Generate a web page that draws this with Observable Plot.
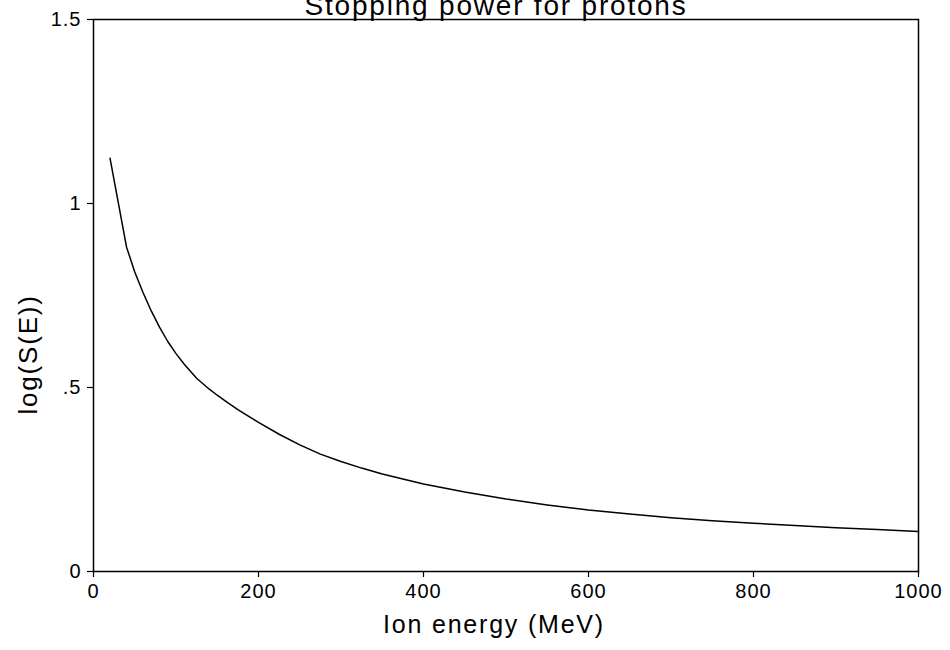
<!DOCTYPE html>
<html>
<head>
<meta charset="utf-8">
<script src="https://cdn.jsdelivr.net/npm/d3@7"></script>
<script src="https://cdn.jsdelivr.net/npm/@observablehq/plot@0.6"></script>
<style>
  html, body { margin: 0; padding: 0; background: #fff; }
  #chart svg { display: block; overflow: visible; }
</style>
</head>
<body>
<div id="chart"></div>
<script>
// Proton stopping power versus ion energy
const energy = [20, 40, 50, 60, 70, 80, 90, 100, 110, 125, 140, 150, 160, 175, 200, 225, 250, 275, 300, 325, 350, 400, 450, 500, 550, 600, 650, 700, 750, 800, 850, 900, 950, 1000];
const logS = [1.123, 0.882, 0.814, 0.758, 0.708, 0.664, 0.625, 0.592, 0.563, 0.525, 0.496, 0.479, 0.463, 0.440, 0.405, 0.373, 0.344, 0.319, 0.299, 0.281, 0.265, 0.238, 0.216, 0.197, 0.181, 0.167, 0.156, 0.146, 0.138, 0.131, 0.125, 0.119, 0.114, 0.109];

const xTicks = [0, 200, 400, 600, 800, 1000];
const yTicks = [0, 0.5, 1, 1.5];
const yTickLabels = ["0", ".5", "1", "1.5"];

const titleText = ["Stopping power for protons"];
const xLabel = ["Ion energy (MeV)"];
const yLabel = ["log(S(E))"];

const rows = energy.map((e, i) => ({energy: e, logS: logS[i]}));

const font = "'Liberation Sans', Arial, Helvetica, sans-serif";

const chart = Plot.plot({
  width: 950,
  height: 650,
  marginLeft: 93,
  marginRight: 32,
  marginTop: 19,
  marginBottom: 79,
  style: {fontFamily: font, fontSize: "20px", color: "#000", background: "#fff"},
  x: {domain: [0, 1000]},
  y: {domain: [0, 1.5]},
  marks: [
    Plot.frame({stroke: "#000", strokeWidth: 1.5}),
    Plot.axisX({ticks: xTicks, tickSize: 6, tickPadding: 6, tickFormat: d => String(d),
      label: null, fontSize: 20, strokeWidth: 1.2}),
    Plot.axisY({ticks: yTicks, tickSize: 6, tickPadding: 6,
      tickFormat: d => yTickLabels[yTicks.indexOf(d)], label: null,
      fontSize: 20, strokeWidth: 1.2}),
    Plot.line(rows, {x: "energy", y: "logS", stroke: "#000", strokeWidth: 1.5}),
    // x-axis title under the tick labels
    Plot.text(xLabel, {text: d => d, frameAnchor: "bottom", lineAnchor: "bottom", dx: -12, dy: 61,
      fontSize: 25, fill: "#000", className: "axis-title"}),
    // rotated y-axis title, left of the tick labels
    Plot.text(yLabel, {text: d => d, frameAnchor: "left", rotate: -90, dx: -65, dy: 119,
      fontSize: 26, fill: "#000", className: "axis-title"}),
    // chart title along the top edge
    Plot.text(titleText, {text: d => d, frameAnchor: "top", lineAnchor: "bottom", dx: -10, dy: -5,
      fontSize: 28, fill: "#000", className: "axis-title"})
  ]
});

// wider letter spacing for all texts, more for the titles
d3.select(chart).selectAll("text").style("letter-spacing", "1px");
d3.select(chart).selectAll(".axis-title text").style("letter-spacing", "1.8px");

document.getElementById("chart").appendChild(chart);
</script>
</body>
</html>
